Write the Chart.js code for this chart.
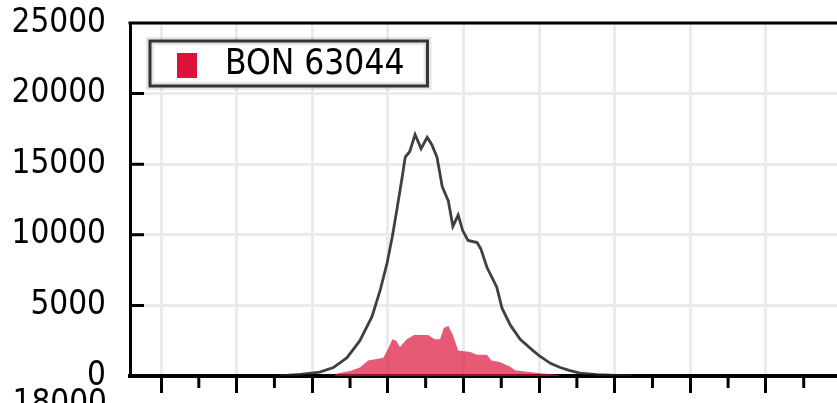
<!DOCTYPE html>
<html lang="en">
<head>
<meta charset="UTF-8">
<title>BON 63044</title>
<script src="https://cdn.jsdelivr.net/npm/chart.js"></script>
<style>
  html, body { margin: 0; padding: 0; background: #fff; overflow: hidden; }
  #wrap { position: relative; width: 837px; height: 403px; }
  #next { position: absolute; left: 0; top: 385px; width: 107px; text-align: right;
          font: 33px 'DejaVu Sans Condensed', 'DejaVu Sans', sans-serif; line-height: 1; color: #000; }
</style>
</head>
<body>
<div id="wrap">
  <canvas id="myChart" width="837" height="403"></canvas>
  <div id="next">18000</div>
</div>
<script>
var FONT = "'DejaVu Sans Condensed', 'DejaVu Sans', sans-serif";

// black outline (all records)
var totalX = [1.57, 1.84, 2.10, 2.28, 2.46, 2.63, 2.79, 2.90, 2.99, 3.06, 3.12, 3.19, 3.23, 3.29, 3.36,
              3.44, 3.52, 3.58, 3.65, 3.72, 3.80, 3.86, 3.93, 3.99, 4.06, 4.18, 4.23, 4.31, 4.44, 4.51,
              4.62, 4.75, 4.92, 5.01, 5.15, 5.28, 5.41, 5.54, 5.77, 6.01, 6.23];
var totalY = [0, 120, 280, 600, 1300, 2500, 4200, 6100, 8000, 9900, 11800, 14100, 15500, 15900, 17100,
              16100, 16900, 16400, 15500, 13400, 12400, 10600, 11400, 10300, 9600, 9450, 9000, 7700, 6300, 4800,
              3600, 2600, 1800, 1400, 900, 600, 380, 200, 100, 50, 0];

// red area (BON 63044)
var bonX = [2.28, 2.34, 2.50, 2.63, 2.74, 2.94, 3.00, 3.06, 3.11, 3.16, 3.25, 3.35, 3.53, 3.62, 3.69,
            3.74, 3.80, 3.86, 3.93, 4.09, 4.18, 4.31, 4.37, 4.48, 4.62, 4.68, 4.84, 5.01, 5.21, 5.30];
var bonY = [0, 200, 350, 600, 1100, 1300, 1900, 2600, 2500, 2050, 2600, 2900, 2900, 2600, 2600,
            3400, 3550, 2900, 1800, 1700, 1500, 1500, 1100, 1000, 650, 400, 300, 200, 100, 0];

var xTicks = [0, 1, 2, 3, 4, 5, 6, 7, 8];
var xMinorTicks = [0.5, 1.5, 2.5, 3.5, 4.5, 5.5, 6.5, 7.5, 8.5];
var yTicks = [0, 5000, 10000, 15000, 20000, 25000];

function points(xs, ys) {
    return xs.map(function (x, i) { return { x: x, y: ys[i] }; });
}

var framePlugin = {
    id: 'frame',
    afterDraw: function (chart) {
        var ctx = chart.ctx, a = chart.chartArea;
        var sx = chart.scales.x, sy = chart.scales.y;
        ctx.save();
        ctx.strokeStyle = '#000';
        ctx.lineWidth = 3;
        ctx.beginPath();
        // top border
        ctx.moveTo(a.left - 1.5, a.top);
        ctx.lineTo(a.right, a.top);
        // inward y ticks
        yTicks.forEach(function (v) {
            var py = sy.getPixelForValue(v);
            ctx.moveTo(a.left, py);
            ctx.lineTo(a.left + 14, py);
        });
        // minor x ticks
        xMinorTicks.forEach(function (v) {
            var px = sx.getPixelForValue(v);
            if (px > a.right) return;
            ctx.moveTo(px, a.bottom + 2);
            ctx.lineTo(px, a.bottom + 12);
        });
        ctx.stroke();

        // legend box
        var ds = chart.data.datasets[1];
        ctx.font = '35px ' + FONT;
        var tw = ctx.measureText(ds.label).width;
        var bx = a.left + 20, by = a.top + 18, bw = 75 + tw + 23, bh = 45;
        ctx.fillStyle = '#fff';
        ctx.fillRect(bx, by, bw, bh);
        ctx.lineWidth = 8;
        ctx.strokeStyle = 'rgba(0,0,0,0.1)';
        ctx.strokeRect(bx, by, bw, bh);
        ctx.lineWidth = 3;
        ctx.strokeStyle = '#333';
        ctx.strokeRect(bx, by, bw, bh);
        ctx.fillStyle = '#dc143c';
        ctx.fillRect(bx + 27, by + 12, 20, 25);
        ctx.fillStyle = '#000';
        ctx.textBaseline = 'middle';
        ctx.fillText(ds.label, bx + 75, by + bh / 2 + 1);
        ctx.restore();
    }
};

var ctx = document.getElementById('myChart').getContext('2d');
var myChart = new Chart(ctx, {
    type: 'line',
    data: {
        datasets: [{
            label: 'Total',
            data: points(totalX, totalY),
            borderColor: 'rgba(30,30,30,0.85)',
            borderWidth: 2.8,
            pointRadius: 0,
            fill: false,
            tension: 0
        }, {
            label: 'BON 63044',
            data: points(bonX, bonY),
            borderColor: 'rgba(0,0,0,0)',
            borderWidth: 1,
            backgroundColor: 'rgba(220,20,60,0.7)',
            pointRadius: 0,
            fill: 'origin',
            tension: 0
        }]
    },
    options: {
        responsive: false,
        animation: false,
        layout: { padding: { top: 23, right: 0, bottom: 10, left: 0 } },
        plugins: {
            legend: { display: false },
            tooltip: { enabled: false }
        },
        scales: {
            x: {
                type: 'linear',
                min: -0.41,
                max: 8.94,
                afterBuildTicks: function (s) { s.ticks = xTicks.map(function (v) { return { value: v }; }); },
                afterFit: function (s) { s.paddingLeft = 0; s.paddingRight = 0; },
                ticks: { display: false },
                grid: { color: '#ebebeb', lineWidth: 3, tickLength: 17, tickColor: '#000', tickWidth: 3 },
                border: { color: '#000', width: 4 }
            },
            y: {
                type: 'linear',
                min: 0,
                max: 25000,
                afterBuildTicks: function (s) { s.ticks = yTicks.map(function (v) { return { value: v }; }); },
                afterFit: function (s) { s.width = 130; s.paddingTop = 0; s.paddingBottom = 0; },
                ticks: {
                    font: { family: FONT, size: 33 },
                    color: '#000',
                    padding: 24,
                    callback: function (v) { return String(v); }
                },
                grid: { color: '#ebebeb', lineWidth: 3, drawTicks: false },
                border: { color: '#000', width: 3 }
            }
        }
    },
    plugins: [framePlugin]
});
</script>
</body>
</html>
